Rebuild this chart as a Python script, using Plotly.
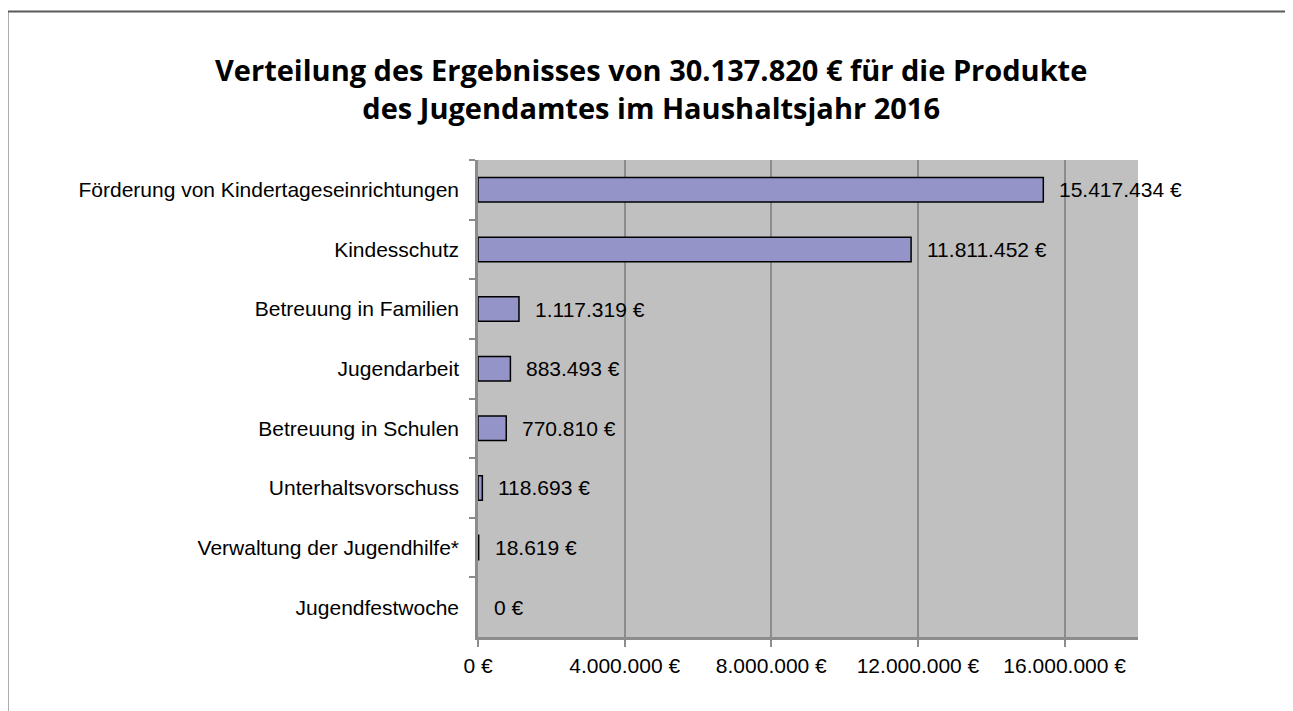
import plotly.graph_objects as go

# ---- data ----
categories = [
    "Förderung von Kindertageseinrichtungen",
    "Kindesschutz",
    "Betreuung in Familien",
    "Jugendarbeit",
    "Betreuung in Schulen",
    "Unterhaltsvorschuss",
    "Verwaltung der Jugendhilfe*",
    "Jugendfestwoche",
]
values = [15417434, 11811452, 1117319, 883493, 770810, 118693, 18619, 0]
tick_values = [0, 4000000, 8000000, 12000000, 16000000]
tick_labels = ["0 €", "4.000.000 €", "8.000.000 €", "12.000.000 €", "16.000.000 €"]
title_line1 = "Verteilung des Ergebnisses von 30.137.820 € für die Produkte"
title_line2 = "des Jugendamtes im Haushaltsjahr 2016"


def fmt(v):
    return f"{v:,}".replace(",", ".") + " €"


# ---- layout constants (figure coords; page has an 8px body offset) ----
OFF = 8
W, H = 1293 - OFF, 711 - OFF
ML, MT = 470, 152
PW, PH = 660, 477
MR = W - ML - PW
MB = H - MT - PH
FONT = "Liberation Sans, Arial, sans-serif"
TITLE_FONT = "Open Sans, sans-serif"
AXIS_GRAY = "#8c8c8c"


def px_to_paper_x(px):
    return (px - OFF - ML) / PW


def px_to_paper_y(py):
    return 1 - (py - OFF - MT) / PH


fig = go.Figure()
fig.add_trace(go.Bar(
    x=values,
    y=categories,
    orientation="h",
    width=0.41,
    marker=dict(
        color="#9494c8",
        line=dict(color="#000000", width=[1.5 if v > 0 else 0 for v in values]),
    ),
    hoverinfo="x+y",
))

for c, v in zip(categories, values):
    fig.add_annotation(
        x=v, y=c, xref="x", yref="y",
        text=fmt(v), showarrow=False,
        xanchor="left", xshift=14,
        font=dict(family=FONT, size=21, color="#000000"),
    )

# title (two lines, one text block)
fig.add_annotation(
    x=px_to_paper_x(651), y=px_to_paper_y(89), xref="paper", yref="paper",
    text=f"<b>{title_line1}<br>{title_line2}</b>", showarrow=False,
    xanchor="center", yanchor="middle", align="center",
    font=dict(family=TITLE_FONT, size=29, color="#000000"),
)

# outer frame
fig.add_shape(
    type="rect", xref="paper", yref="paper",
    x0=px_to_paper_x(7.5), x1=px_to_paper_x(1291.5),
    y0=-0.3, y1=px_to_paper_y(11.5),
    line=dict(color="#5a5a5a", width=2),
    fillcolor="rgba(0,0,0,0)",
    layer="below",
)

fig.update_layout(
    width=W, height=H,
    margin=dict(l=ML, r=MR, t=MT, b=MB, autoexpand=False),
    paper_bgcolor="#ffffff",
    plot_bgcolor="#c0c0c0",
    showlegend=False,
    font=dict(family=FONT, size=21, color="#000000"),
    xaxis=dict(
        range=[0, 18000000],
        tickvals=tick_values,
        ticktext=tick_labels,
        showgrid=True, gridcolor=AXIS_GRAY, gridwidth=1.5,
        showline=True, linecolor=AXIS_GRAY, linewidth=2.5,
        ticks="outside", ticklen=7, tickcolor=AXIS_GRAY, tickwidth=2,
        ticklabelstandoff=1,
        zeroline=False,
        tickfont=dict(family=FONT, size=21, color="#000000"),
        fixedrange=True,
    ),
    yaxis=dict(
        categoryorder="array", categoryarray=categories,
        autorange="reversed",
        showline=True, linecolor=AXIS_GRAY, linewidth=2.5,
        ticks="outside", ticklen=6, tickcolor=AXIS_GRAY, tickwidth=2,
        tickson="boundaries",
        ticklabelstandoff=12,
        showgrid=False,
        tickfont=dict(family=FONT, size=21, color="#000000"),
        fixedrange=True,
    ),
)

fig.write_html("out.html")
